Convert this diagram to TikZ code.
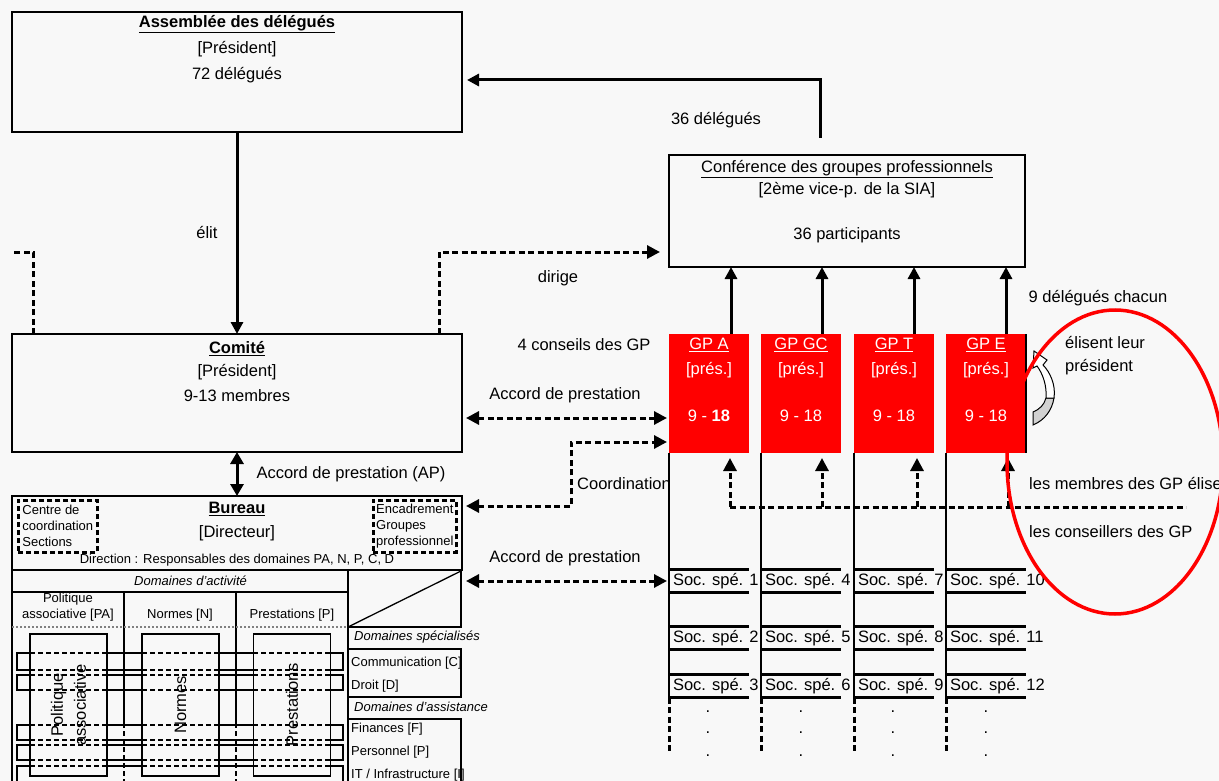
\documentclass[tikz,border=0pt]{standalone}
\usepackage{fontspec}
\setmainfont{Liberation Sans}
\usetikzlibrary{arrows.meta,positioning,calc}
\definecolor{bgc}{RGB}{248,248,248}

\begin{document}
\begin{tikzpicture}[
    x=1pt, y=-1pt,
    font=\fontsize{16.5}{19}\selectfont,
    box/.style={draw, line width=2.6pt, anchor=north west, inner sep=0pt, outer sep=0pt},
    ttl/.style={anchor=north, align=center, inner sep=0pt},
    gp/.style={fill=red, anchor=north west, minimum width=80pt, minimum height=119pt, inner sep=0pt, outer sep=0pt},
    gptxt/.style={text=white, anchor=north, align=center, inner sep=0pt},
    soc/.style={anchor=west, minimum height=23pt, inner xsep=4pt, inner ysep=0pt, outer sep=0pt},
    socline/.style={line width=2.6pt},
    lbl/.style={inner sep=0pt},
    sml/.style={font=\fontsize{13}{16}\selectfont, inner sep=0pt},
    dbox/.style={draw, line width=2.6pt, dash pattern=on 5pt off 3pt, anchor=north west, align=left, inner sep=0pt, font=\fontsize{13}{16}\selectfont},
    col/.style={draw, line width=1.3pt, fill=bgc, rotate=90, minimum width=142pt, minimum height=77pt, align=center, inner sep=0pt},
    arr/.style={-{Triangle[length=12pt,width=12pt]}, line width=3pt},
    dbl/.style={{Triangle[length=12pt,width=13pt]}-{Triangle[length=12pt,width=13pt]}, line width=3pt},
    dsh/.style={line width=3pt, dash pattern=on 6pt off 3.5pt},
    darr/.style={dsh, -{Triangle[length=13pt,width=13pt]}},
    ddarr/.style={dsh, {Triangle[length=13pt,width=13pt]}-{Triangle[length=13pt,width=13pt]}, shorten <=4pt, shorten >=2pt},
    hid/.style={line width=2.6pt, dash pattern=on 5pt off 3pt}
]
\fill[bgc] (0,0) rectangle (1219,781);
\useasboundingbox (0,0) rectangle (1219,781);
\clip (0,0) rectangle (1219,781);

% organes
\node[box, minimum width=450pt, minimum height=120pt] (assem) at (12,12) {};
\node[ttl] (assemT) at ([yshift=-3pt]assem.north) {\textbf{\underline{Assemblée des délégués}}\\[7pt]{[Président]}\\[7pt]72 délégués};
\node[box, minimum width=450pt, minimum height=118pt] (comite) at (12,334) {};
\node[ttl] (comiteT) at ([yshift=-7pt]comite.north) {\textbf{\underline{Comité}}\\[4pt]{[Président]}\\[6pt]9-13 membres};
\node[box, minimum width=450pt, minimum height=74pt] (bureau) at (12,496) {};
\node[ttl] (bureauT) at ([yshift=-6pt]bureau.north) {\textbf{\underline{Bureau}}\\[5pt]{[Directeur]}};
\node[dbox, minimum width=79pt, minimum height=52pt] (ccs) at (17,499) {Centre de\\coordination\\Sections};
\node[dbox, minimum width=83pt, minimum height=52pt] (egp) at (372,499) {Encadrement\\Groupes\\professionnel};
\node[sml] (dirT) at (237,560) {Direction : Responsables des domaines PA, N, P, C, D};
\node[box, minimum width=356pt, minimum height=112pt] (conf) at (669,155) {};
\node[ttl] (confT) at ([yshift=-5pt]conf.north) {\underline{Conférence des groupes professionnels}\\[3pt]{[2ème vice-p. de la SIA]}\\[26pt]36 participants};

% domaines
\draw[line width=2.6pt] (12,570) -- (12,790) (348,570) -- (348,790) (12,592) -- (348,592);
\draw[line width=2pt] (124,592) -- (124,723) (236,592) -- (236,723);
\draw[gray, line width=2pt, dotted] (12,627) -- (348,627);
\draw[line width=2.6pt] (348,627) -- (461,627) -- (461,570);
\draw[line width=1.3pt] (348,627) -- (461,571);
\draw[line width=2.6pt] (348,649) -- (461,649) -- (461,697) -- (348,697);
\draw[line width=2.6pt] (348,719) -- (461,719) -- (461,790);
\node[sml, anchor=west, font=\fontsize{13}{16}\selectfont\itshape] (hAct) at (134,581) {Domaines d'activité};
\node[sml, align=center] (hPA) at (68,607) {Politique\\associative [PA]};
\node[sml] (hN) at (180,615) {Normes [N]};
\node[sml] (hP) at (292,615) {Prestations [P]};
\node[sml, anchor=west, font=\fontsize{13}{16}\selectfont\itshape] (hSpe) at (354,637) {Domaines spécialisés};
\node[sml, anchor=west] (dC) at (351,663) {Communication [C]};
\node[sml, anchor=west] (dD) at (351,686) {Droit [D]};
\node[sml, anchor=west, font=\fontsize{13}{16}\selectfont\itshape] (hAss) at (354,707) {Domaines d'assistance};
\node[sml, anchor=west] (dF) at (351,729) {Finances [F]};
\node[sml, anchor=west] (dPe) at (351,752) {Personnel [P]};
\node[sml, anchor=west] (dI) at (351,775) {IT / Infrastructure [I]};

\draw[line width=1.3pt] (17,653) rectangle (343,670) (17,675) rectangle (343,690)
  (17,725) rectangle (343,740) (17,745) rectangle (343,760) (17,766) rectangle (343,795);
\node[col] (cPA) at (68.5,705) {Politique\\[4pt]associative};
\node[col] (cN) at (180.5,705) {Normes};
\node[col] (cP) at (292,705) {Prestations};
\foreach \y in {653,670,675,690,725,740,745,760,766}
  \draw[hid] (30,\y) -- (107,\y) (142,\y) -- (219,\y) (253,\y) -- (331,\y);
\draw[hid] (124,653) -- (124,690) (124,723) -- (124,790) (236,653) -- (236,690) (236,723) -- (236,790);

% groupes professionnels
\node[gp] (gpA) at (669,334) {};
\node[gp] (gpGC) at (761,334) {};
\node[gp] (gpT) at (854,334) {};
\node[gp] (gpE) at (946,334) {};
\draw[line width=2.6pt] (gpE.north east) -- (gpE.south east);
\node[gptxt] (tA) at ([yshift=-4pt]gpA.north) {\underline{GP A}\\[6pt]{[prés.]}\\[28pt]9 - \textbf{18}};
\node[gptxt] (tGC) at ([yshift=-4pt]gpGC.north) {\underline{GP GC}\\[6pt]{[prés.]}\\[28pt]9 - 18};
\node[gptxt] (tT) at ([yshift=-4pt]gpT.north) {\underline{GP T}\\[6pt]{[prés.]}\\[28pt]9 - 18};
\node[gptxt] (tE) at ([yshift=-4pt]gpE.north) {\underline{GP E}\\[6pt]{[prés.]}\\[28pt]9 - 18};

\node[soc] (s1) at (669,581) {Soc. spé. 1};
\node[soc] (s2) at (669,638) {Soc. spé. 2};
\node[soc] (s3) at (669,686) {Soc. spé. 3};
\node[soc] (s4) at (761,581) {Soc. spé. 4};
\node[soc] (s5) at (761,638) {Soc. spé. 5};
\node[soc] (s6) at (761,686) {Soc. spé. 6};
\node[soc] (s7) at (854,581) {Soc. spé. 7};
\node[soc] (s8) at (854,638) {Soc. spé. 8};
\node[soc] (s9) at (854,686) {Soc. spé. 9};
\node[soc] (s10) at (946,581) {Soc. spé. 10};
\node[soc] (s11) at (946,638) {Soc. spé. 11};
\node[soc] (s12) at (946,686) {Soc. spé. 12};
\draw[socline] (s1.north west) -- ++(80,0) (s1.south west) -- ++(80,0) (s2.north west) -- ++(80,0)
  (s2.south west) -- ++(80,0) (s3.north west) -- ++(80,0) (s3.south west) -- ++(80,0);
\draw[socline] (s4.north west) -- ++(80,0) (s4.south west) -- ++(80,0) (s5.north west) -- ++(80,0)
  (s5.south west) -- ++(80,0) (s6.north west) -- ++(80,0) (s6.south west) -- ++(80,0);
\draw[socline] (s7.north west) -- ++(80,0) (s7.south west) -- ++(80,0) (s8.north west) -- ++(80,0)
  (s8.south west) -- ++(80,0) (s9.north west) -- ++(80,0) (s9.south west) -- ++(80,0);
\draw[socline] (s10.north west) -- ++(80,0) (s10.south west) -- ++(80,0) (s11.north west) -- ++(80,0)
  (s11.south west) -- ++(80,0) (s12.north west) -- ++(80,0) (s12.south west) -- ++(80,0);
\draw[line width=1.5pt] (gpA.south west) -- (s3.south west) (gpGC.south west) -- (s6.south west)
  (gpT.south west) -- (s9.south west) (gpE.south west) -- (s12.south west);
\draw[dsh] (s3.south west) -- ++(0,56) (s6.south west) -- ++(0,56) (s9.south west) -- ++(0,56) (s12.south west) -- ++(0,56);
\foreach \x in {708,801,893,986}
  \foreach \y in {712,733,756}
    \node[lbl] (dot-\x-\y) at (\x,\y) {.};

% liaisons
\coordinate (dl) at (820,80);
\draw[arr, shorten <=17pt, shorten >=5pt] (conf.north -| dl) -- (dl) -- (assem.east |- dl);
\node[lbl] (l36) at (716,120) {36 délégués};
\draw[arr] (assem.south) -- node[lbl, left=18pt] (lelit) {élit} (comite.north);
\draw[dbl] (comite.south) -- node[lbl, right=18pt] (lapAP) {Accord de prestation (AP)} (bureau.north);
\coordinate (lk) at (33,252);
\coordinate (lf) at (12,252);
\draw[dsh] (comite.north -| lk) -- (lk) -- (lf);
\coordinate (dg) at (439,252);
\draw[darr, shorten >=9pt] (comite.north -| dg) -- (dg) -- (conf.west |- dg);
\node[lbl] (ldir) at (558,278) {dirige};
\node[lbl] (l4c) at (584,345) {4 conseils des GP};
\draw[arr] ([xshift=62pt]gpA.north west) -- ([xshift=62pt]gpA.north west |- conf.south);
\draw[arr] ([xshift=61pt]gpGC.north west) -- ([xshift=61pt]gpGC.north west |- conf.south);
\draw[arr] ([xshift=60pt]gpT.north west) -- ([xshift=60pt]gpT.north west |- conf.south);
\draw[arr] ([xshift=60pt]gpE.north west) -- ([xshift=60pt]gpE.north west |- conf.south);
\node[lbl] (l9d) at (1098,298) {9 délégués chacun};
\coordinate (ap1) at (0,418);
\draw[ddarr] (comite.east |- ap1) -- (gpA.west |- ap1);
\node[lbl] (lap1) at (565,395) {Accord de prestation};
\coordinate (co) at (571,442);
\coordinate (co2) at (0,506);
\draw[ddarr] (bureau.east |- co2) -| (co) -- (gpA.west |- co);
\node[lbl] (lco) at (624,484) {Coordination};
\draw[ddarr] (bureau.east |- s1.west) -- (s1.west);
\node[lbl] (lap2) at (565,558) {Accord de prestation};

\coordinate (mA) at (730,507);
\coordinate (mGC) at (822,507);
\coordinate (mT) at (917,507);
\coordinate (mE) at (1008,507);
\coordinate (mEnd) at (1186,507);
\draw[dsh] (mA) -- (mEnd);
\draw[darr, shorten >=5pt] (mA) -- (mA |- gpA.south);
\draw[darr, shorten >=5pt] (mGC) -- (mGC |- gpGC.south);
\draw[darr, shorten >=5pt] (mT) -- (mT |- gpT.south);
\draw[darr, shorten >=5pt] (mE) -- (mE |- gpE.south);
\node[lbl, anchor=west, align=left] (lel) at (1065,356) {élisent leur\\[4pt]président};
\node[lbl, anchor=west] (lmem) at (1029,484) {les membres des GP élisent};
\node[lbl, anchor=west] (lcon) at (1029,532) {les conseillers des GP};

% fleche courbe
\filldraw[fill=gray!35, line width=1pt] (1033,425) .. controls (1045,420) and (1052,410) .. (1054,398)
  -- (1046,398) .. controls (1044,405) and (1040,409) .. (1033,412) -- cycle;
\filldraw[fill=white, line width=1pt] (1054,398) .. controls (1056,385) and (1050,372) .. (1043,365)
  -- (1047,360) -- (1034,351) -- (1033,368) -- (1037,366) .. controls (1043,374) and (1047,386) .. (1046,398) -- cycle;

\draw[red, line width=3.5pt] (1115,462) ellipse [x radius=108, y radius=152];
\end{tikzpicture}
\end{document}
